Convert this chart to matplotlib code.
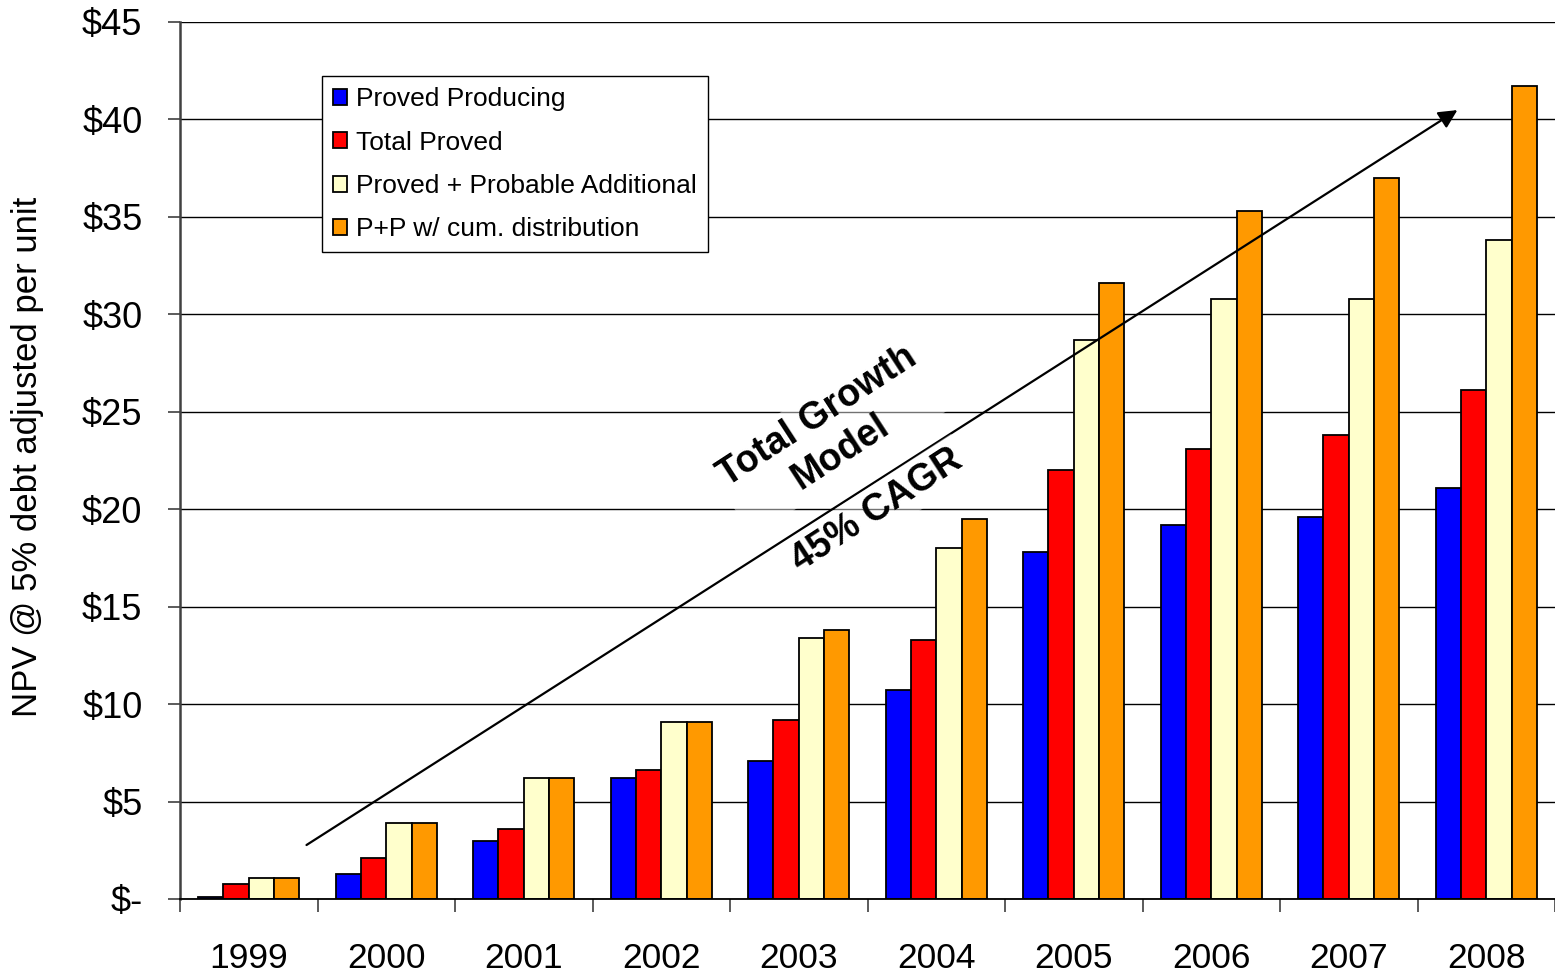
import matplotlib
matplotlib.use("Agg")
import matplotlib.pyplot as plt
import numpy as np

plt.rcParams['font.family'] = ['Liberation Sans', 'DejaVu Sans']

years = ["1999", "2000", "2001", "2002", "2003", "2004", "2005", "2006", "2007", "2008"]
series_names = ["Proved Producing", "Total Proved", "Proved + Probable Additional", "P+P w/ cum. distribution"]
proved_producing = [0.1, 1.3, 3.0, 6.2, 7.1, 10.7, 17.8, 19.2, 19.6, 21.1]
total_proved = [0.75, 2.1, 3.6, 6.6, 9.2, 13.3, 22.0, 23.1, 23.8, 26.1]
proved_probable = [1.1, 3.9, 6.2, 9.1, 13.4, 18.0, 28.7, 30.8, 30.8, 33.8]
pp_cum = [1.1, 3.9, 6.2, 9.1, 13.8, 19.5, 31.6, 35.3, 37.0, 41.7]
colors = ["#0000FF", "#FF0000", "#FFFFCC", "#FF9900"]
yticks = [0, 5, 10, 15, 20, 25, 30, 35, 40, 45]
ytick_labels = ["\\$-", "\\$5", "\\$10", "\\$15", "\\$20", "\\$25", "\\$30", "\\$35", "\\$40", "\\$45"]

fig = plt.figure(figsize=(15.55, 9.74), dpi=100)
ax = fig.add_axes([180/1555, 75/974, 1375/1555, 877/974])

x = np.arange(len(years))
w = 0.184
all_series = [proved_producing, total_proved, proved_probable, pp_cum]
for i, (vals, c, name) in enumerate(zip(all_series, colors, series_names)):
    ax.bar(x + (i - 1.5) * w, vals, width=w, color=c, edgecolor='black',
           linewidth=1.3, label=name, zorder=3)

ax.set_xlim(-0.5, len(years) - 0.5)
ax.set_ylim(0, 45)
ax.set_yticks(yticks)
ax.set_yticklabels(ytick_labels, fontsize=26)
ax.yaxis.grid(True, color='black', linewidth=1.0, zorder=0)
ax.set_axisbelow(True)

ax.set_xticks(x)
ax.set_xticklabels(years, fontsize=25.5)
ax.set_xticks(np.arange(-0.5, len(years) + 0.5, 1.0), minor=True)
ax.tick_params(axis='x', which='major', length=0, pad=31)
ax.tick_params(axis='x', which='minor', length=9.5, width=1.2, color='#404040')
ax.tick_params(axis='y', length=9, width=1.2, color='#404040', pad=18)

for s in ['top', 'right']:
    ax.spines[s].set_visible(False)
ax.spines['left'].set_color('#404040')
ax.spines['left'].set_linewidth(1.8)
ax.spines['bottom'].set_color('black')
ax.spines['bottom'].set_linewidth(1.3)
ax.spines['bottom'].set_zorder(4)

ax.set_ylabel("NPV @ 5% debt adjusted per unit", fontsize=25, va='center')
ax.yaxis.set_label_coords((28 - 180) / 1375, (899 - 457) / 877)

leg = ax.legend(loc='upper left', bbox_to_anchor=(0.103, 0.938), borderaxespad=0,
                fontsize=19, frameon=True, fancybox=False, shadow=False,
                handlelength=0.55, handleheight=0.55, handletextpad=0.35,
                labelspacing=0.73, borderpad=0.42, framealpha=1)
leg.get_frame().set_edgecolor('black')
leg.get_frame().set_linewidth(1.0)

ax.annotate("", xy=(8.79, 40.48), xytext=(0.42, 2.77),
            arrowprops=dict(arrowstyle='-|>', color='black', lw=1.6,
                            mutation_scale=28, shrinkA=0, shrinkB=0), zorder=5)

halo = dict(facecolor='white', alpha=0.45, edgecolor='none', pad=4)
ax.text(4.22, 23.85, "Total Growth\nModel", rotation=33, rotation_mode='anchor',
        ha='center', va='center', multialignment='center', fontsize=27,
        fontweight='bold', linespacing=1.22, zorder=6, bbox=halo)
ax.text(4.57, 19.96, "45% CAGR", rotation=33, rotation_mode='anchor',
        ha='center', va='center', fontsize=27, fontweight='bold', zorder=6, bbox=halo)

fig.savefig("out.png", dpi=100)
